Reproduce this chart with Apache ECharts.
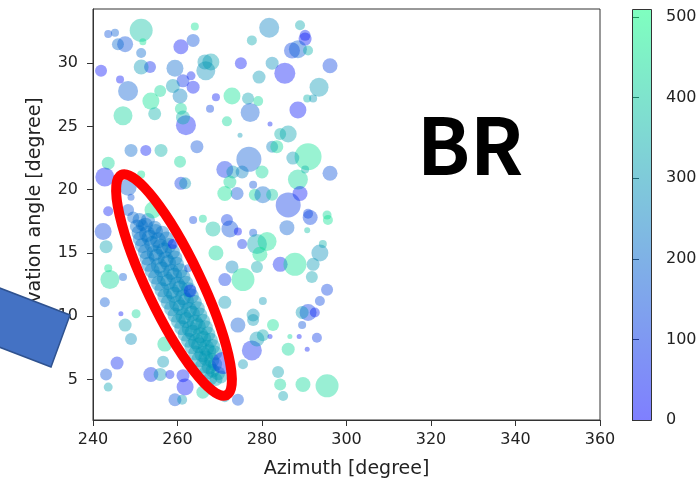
<!DOCTYPE html>
<html><head><meta charset="utf-8">
<script src="https://cdn.jsdelivr.net/npm/echarts@6/dist/echarts.min.js"></script>
<style>html,body{margin:0;padding:0;background:#fff}#c{width:699px;height:481px}</style>
</head><body><div id="c"></div>
<script>
// ---- Data ----
// Dense diagonal band of detections
const bandAzimuth = [
  251.0,253.0,
  250.4,252.4,254.6,
  250.9,252.8,254.8,256.4,
  251.2,253.4,255.4,257.4,
  251.7,254.0,256.0,258.0,
  252.4,254.6,256.8,258.8,
  252.8,255.1,257.2,259.4,
  253.2,255.6,257.8,259.8,
  254.0,256.3,258.5,260.6,
  254.8,257.0,259.2,261.3,
  255.5,257.8,259.9,262.0,
  256.3,258.5,260.6,262.6,
  257.0,259.2,261.3,263.3,
  257.8,259.9,262.0,264.0,
  258.6,260.7,262.7,264.7,
  259.4,261.4,263.4,265.3,
  260.2,262.1,264.1,266.0,
  261.0,262.9,264.8,266.6,
  261.8,263.6,265.4,267.2,
  262.6,264.4,266.1,267.8,
  263.4,265.1,266.8,268.3,
  264.3,265.9,267.4,268.8,
  265.2,266.7,268.1,
  266.1,267.5,268.9,
  267.0,268.3,269.6,
  267.8,269.1,270.3,
  268.8,270.2,
  269.8,271.0];
const bandElevation = [
  17.6,17.6,
  17.1,17.2,17.0,
  16.6,16.5,16.7,16.6,
  16.1,16.2,16.0,16.1,
  15.6,15.7,15.5,15.6,
  15.1,15.0,15.2,15.1,
  14.6,14.7,14.5,14.6,
  14.1,14.0,14.2,14.1,
  13.6,13.7,13.5,13.6,
  13.1,13.0,13.2,13.1,
  12.6,12.7,12.5,12.6,
  12.1,12.0,12.2,12.1,
  11.6,11.7,11.5,11.6,
  11.1,11.0,11.2,11.1,
  10.6,10.7,10.5,10.6,
  10.1,10.0,10.2,10.1,
  9.6,9.7,9.5,9.6,
  9.1,9.0,9.2,9.1,
  8.6,8.7,8.5,8.6,
  8.1,8.0,8.2,8.1,
  7.6,7.7,7.5,7.6,
  7.1,7.0,7.2,7.1,
  6.6,6.7,6.5,
  6.1,6.0,6.2,
  5.6,5.7,5.5,
  5.1,5.0,5.2,
  4.6,4.5,
  4.1,4.2];
const bandArea = [
  196,196,
  196,225,196,
  225,256,225,196,
  225,256,256,225,
  225,256,256,225,
  225,256,256,225,
  225,256,256,225,
  225,256,256,225,
  225,256,256,225,
  225,256,256,225,
  225,256,256,225,
  225,256,256,225,
  225,256,256,225,
  225,256,256,225,
  225,256,256,225,
  225,256,256,225,
  225,256,256,225,
  225,256,256,225,
  225,256,256,225,
  225,256,256,225,
  225,256,256,225,
  225,256,225,
  225,256,225,
  225,256,225,
  196,225,196,
  196,196,
  169,169];
const bandValue = [
  210,215,
  215,220,225,
  220,225,230,225,
  225,230,230,235,
  230,235,235,240,
  235,240,240,245,
  240,245,245,250,
  245,250,250,255,
  250,255,255,260,
  255,260,260,265,
  260,265,265,270,
  265,270,270,275,
  270,275,275,280,
  275,280,280,285,
  280,285,285,290,
  285,290,290,295,
  290,295,295,300,
  290,295,300,300,
  295,300,300,305,
  295,300,305,305,
  300,300,305,305,
  300,305,305,310,
  300,305,310,
  300,305,310,
  305,305,310,
  305,310,310,
  305,310,
  310,310];

// Scattered detections
const bgAzimuth = [243.6,245.2,251.4,247.6,245.9,251.8,264.1,260.8,263.7,251.4,253.5,251.4,241.9,246.4,248.3,259.4,261.3,263.7,263.2,266.7,267.9,266.5,260.6,258.9,255.9,253.7,247.1,254.6,260.8,269.1,267.7,281.7,289.0,290.2,290.2,287.1,288.5,290.9,277.6,275.0,282.4,285.4,279.3,296.1,293.5,290.7,292.1,272.9,276.7,279.1,277.2,288.5,262.0,261.3,249.0,252.5,256.1,264.6,260.6,243.6,242.8,248.3,251.4,260.8,261.8,249.0,254.2,248.3,243.6,271.7,281.9,274.8,286.2,284.3,282.4,283.5,276.9,290.9,287.3,271.2,273.1,275.3,280.0,296.1,288.5,290.2,277.9,272.4,274.1,271.2,278.3,280.2,282.4,289.0,286.2,290.9,295.4,242.4,243.1,243.6,244.0,247.1,242.8,246.6,250.2,258.9,263.7,266.0,262.5,263.0,268.4,269.1,267.7,271.7,272.4,274.3,275.3,277.9,278.8,281.2,279.5,285.9,291.4,295.6,290.7,284.3,287.8,278.8,272.9,294.4,293.7,292.1,291.8,271.2,275.5,295.4,293.7,280.2,271.2,277.9,290.9,289.5,292.5,247.6,249.0,245.7,243.1,243.6,256.6,253.7,255.9,258.2,261.3,261.8,259.4,261.1,266.0,270.8,257.0,274.3,277.9,282.6,289.5,277.6,278.8,280.2,281.9,286.6,288.8,293.0,290.7,286.2,275.5,283.8,284.3,289.7,295.4,285.0,274.3,271.2,249.5,251.6];
const bgElevation = [32.3,32.4,32.6,31.5,31.5,31.7,32.9,31.3,31.8,30.8,29.7,29.7,29.4,28.7,27.8,29.6,28.6,28.1,29.0,29.4,30.1,30.1,27.4,28.2,27.8,27.0,25.85,26.0,26.4,27.3,26.4,32.8,33.0,32.2,31.9,31.0,31.1,31.0,31.8,30.0,30.0,29.2,28.9,29.8,28.1,27.2,27.2,27.4,27.2,27.0,26.1,26.3,25.1,25.7,23.1,23.1,23.1,23.4,22.2,22.1,21.0,20.2,21.2,20.5,20.5,19.4,18.4,18.4,18.3,25.4,25.2,24.3,24.4,24.4,23.4,23.4,22.4,22.6,22.5,21.6,21.4,21.4,21.4,21.3,20.8,21.6,20.4,20.6,19.7,19.7,19.6,19.6,19.6,19.7,18.8,18.1,18.0,16.7,15.5,13.8,12.9,13.1,11.1,10.2,10.2,15.7,17.6,17.7,13.8,12.0,16.9,15.0,11.1,17.6,16.9,16.7,15.7,16.6,15.7,15.9,14.9,17.0,17.8,17.6,16.8,14.1,14.1,13.9,13.9,15.7,15.0,14.1,13.1,12.9,12.9,12.1,11.2,11.2,11.1,10.1,10.3,10.3,10.3,9.3,8.2,6.3,5.4,4.4,6.4,5.4,5.4,5.4,5.3,4.4,3.4,3.4,4.0,6.3,7.8,9.3,9.7,9.3,9.3,7.3,8.2,8.5,8.4,8.4,8.4,8.3,7.4,7.4,6.2,5.6,4.6,4.6,4.5,3.7,3.4,3.6,17.8,17.2];
const bgArea = [64,64,529,256,144,49,64,225,169,100,144,225,144,64,400,289,169,169,81,361,289,225,225,196,144,289,361,169,144,64,64,400,100,121,169,256,324,100,100,144,169,441,169,225,361,64,64,289,144,100,361,289,400,196,169,121,169,169,144,169,361,289,64,169,144,49,289,144,100,100,25,25,289,144,144,169,625,729,169,289,169,169,169,225,400,64,64,169,169,225,144,289,144,225,625,100,81,289,169,64,361,64,100,25,81,100,64,64,64,169,225,225,64,144,289,64,100,64,400,361,225,225,225,100,36,225,529,144,169,64,289,169,144,169,529,144,100,64,169,169,289,169,100,169,144,169,144,81,144,225,169,81,169,289,169,100,169,484,225,225,144,144,64,400,225,144,25,25,25,100,25,169,100,144,144,225,529,100,144,100,144,144];
const bgValue = [150,180,380,150,200,450,450,30,150,200,60,300,20,30,180,200,80,40,50,280,320,300,250,300,430,450,420,350,430,40,120,250,330,60,30,120,180,350,330,30,280,30,300,120,300,350,300,450,320,430,170,30,40,350,200,40,350,150,430,430,30,180,450,100,300,150,450,160,40,430,50,300,320,350,250,430,170,450,300,80,300,250,430,150,430,350,150,430,150,450,430,200,400,30,100,120,430,120,320,450,430,170,170,30,430,20,120,430,150,60,380,430,300,100,150,20,80,150,320,450,450,180,120,450,380,50,450,330,260,350,280,300,320,100,450,120,130,300,300,300,100,300,50,320,280,60,150,320,300,80,300,60,50,30,150,300,400,40,430,170,300,450,150,60,300,330,50,430,30,100,40,430,300,320,430,430,430,320,150,300,200,220];

// Axis ticks and colour scale
const xTicks = [240,260,280,300,320,340,360];
const yTicks = [5,10,15,20,25,30];
const cbTicks = [0,100,200,300,400,500];
const cbRange = [0, 510];
const winterAlpha = ['rgba(0,0,255,0.5)', 'rgba(0,255,128,0.5)'];

// ---- Build series data ----
const points = [];
for (let i = 0; i < bandAzimuth.length; i++) points.push([bandAzimuth[i], bandElevation[i], bandArea[i], bandValue[i]]);
for (let i = 0; i < bgAzimuth.length; i++) points.push([bgAzimuth[i], bgElevation[i], bgArea[i], bgValue[i]]);

const FONT = 'DejaVu Sans';
const TXT = '#222';
const chart = echarts.init(document.getElementById('c'), null, {renderer: 'canvas'});
chart.setOption({
  animation: false,
  backgroundColor: '#fff',
  grid: [
    {left: 93, top: 9, width: 507, height: 411, outerBoundsMode: 'none', containLabel: false,
     show: true, borderColor: '#333', borderWidth: 1, backgroundColor: '#fff'},
    {left: 632, top: 9, width: 19, height: 411, outerBoundsMode: 'none', containLabel: false, show: false}
  ],
  xAxis: [
    {type: 'value', gridIndex: 0, min: xTicks[0], max: xTicks[xTicks.length-1], interval: 20,
     name: 'Azimuth [degree]', nameLocation: 'middle', nameGap: 40,
     nameTextStyle: {fontFamily: FONT, fontSize: 19, color: TXT},
     axisLine: {show: true, onZero: false, lineStyle: {color: '#333', width: 1}},
     axisTick: {show: true, inside: false, length: 6, lineStyle: {color: '#333'}},
     axisLabel: {fontFamily: FONT, fontSize: 16, color: TXT, margin: 12},
     splitLine: {show: false}},
    {type: 'value', gridIndex: 1, show: false, min: 0, max: 1}
  ],
  yAxis: [
    {type: 'value', gridIndex: 0, min: 1.8, max: 34.28,
     name: 'Elevation angle [degree]', nameLocation: 'middle', nameGap: 48, nameRotate: 90,
     nameTextStyle: {fontFamily: FONT, fontSize: 19, color: TXT},
     axisLine: {show: true, onZero: false, lineStyle: {color: '#333', width: 1}},
     axisTick: {show: true, inside: false, length: 6, customValues: yTicks, lineStyle: {color: '#333'}},
     axisLabel: {fontFamily: FONT, fontSize: 16, color: TXT, margin: 15, customValues: yTicks},
     splitLine: {show: false}},
    {type: 'value', gridIndex: 1, position: 'right', min: cbRange[0], max: cbRange[1],
     axisLine: {show: false},
     axisTick: {show: true, inside: false, length: 7, customValues: cbTicks, lineStyle: {color: '#333'}},
     axisLabel: {fontFamily: FONT, fontSize: 16, color: TXT, margin: 15, customValues: cbTicks},
     splitLine: {show: false}}
  ],
  visualMap: {
    type: 'continuous', show: false, min: cbRange[0], max: cbRange[1], dimension: 3, seriesIndex: 0,
    inRange: {color: winterAlpha}
  },
  series: [{
    type: 'scatter', xAxisIndex: 0, yAxisIndex: 0,
    data: points,
    symbol: 'circle',
    symbolSize: function (d) { return Math.sqrt(d[2]); },
    itemStyle: {borderWidth: 0},
    silent: true
  }],
  graphic: [
    {type: 'rect', left: 632, top: 9, z: 50,
     shape: {width: 19, height: 411},
     style: {fill: {type: 'linear', x: 0, y: 1, x2: 0, y2: 0, colorStops: [{offset: 0, color: winterAlpha[0]}, {offset: 1, color: winterAlpha[1]}]},
             stroke: '#333', lineWidth: 1}},
    {type: 'text', left: 417, top: 106, z: 100,
     style: {text: 'BR', fill: '#000', font: 'bold 78px "Noto Sans CJK JP", "Noto Sans", sans-serif'}},
    {type: 'ellipse', x: 174, y: 285, rotation: 0.445, z: 100,
     shape: {cx: 0, cy: 0, rx: 27, ry: 122},
     style: {fill: 'none', stroke: '#ff0000', lineWidth: 10}},
    {type: 'polygon', z: 100,
     shape: {points: [[-60, 265], [70, 315], [51, 367], [-79, 317]]},
     style: {fill: '#4472c4', stroke: '#2f528f', lineWidth: 1.5}}
  ]
});
</script></body></html>
